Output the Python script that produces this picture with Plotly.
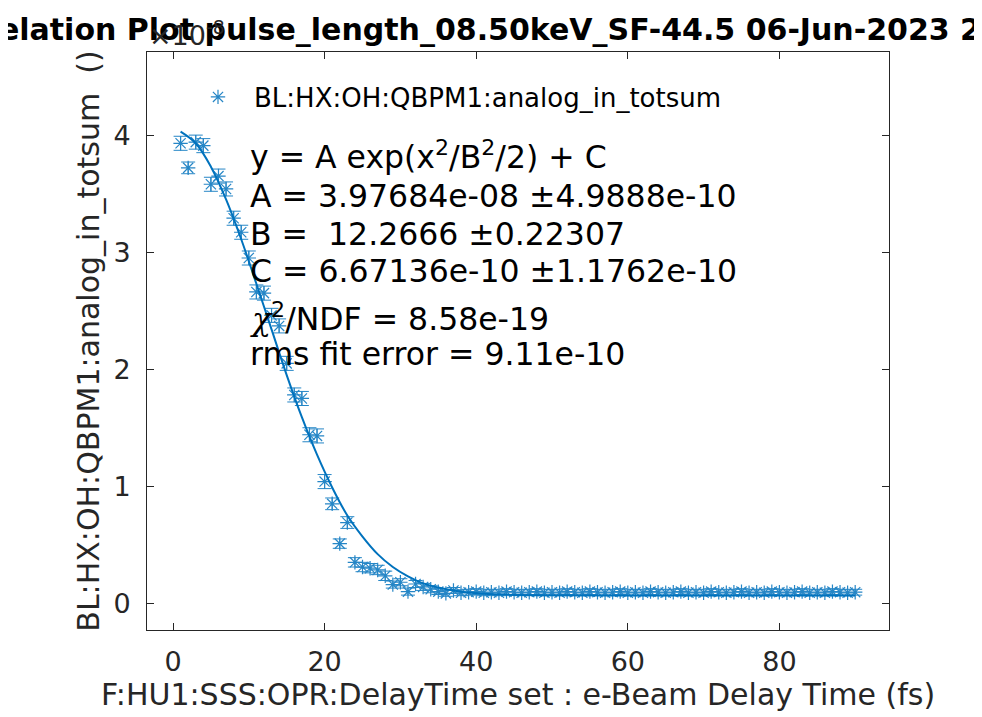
import plotly.graph_objects as go

# scan positions (fs) and measured totsum, in units of 1e-8
delay_fs = list(range(1, 91))
totsum_e8 = [
    3.93, 3.72, 3.94, 3.91, 3.58, 3.65, 3.54, 3.29, 3.17, 2.95,
    2.66, 2.65, 2.46, 2.37, 2.05, 1.78, 1.75, 1.44, 1.43, 1.04,
    0.85, 0.51, 0.69, 0.35, 0.31, 0.30, 0.285, 0.235, 0.16, 0.18,
    0.10, 0.165, 0.14, 0.12, 0.10, 0.085, 0.11, 0.09, 0.095, 0.10,
    0.09, 0.095, 0.09, 0.10, 0.095, 0.09, 0.095, 0.10, 0.09, 0.095,
    0.09, 0.10, 0.095, 0.09, 0.10, 0.095, 0.09, 0.095, 0.10, 0.09,
    0.095, 0.09, 0.10, 0.095, 0.09, 0.095, 0.10, 0.09, 0.095, 0.09,
    0.10, 0.095, 0.09, 0.095, 0.10, 0.09, 0.095, 0.09, 0.10, 0.095,
    0.09, 0.095, 0.10, 0.09, 0.095, 0.09, 0.10, 0.095, 0.09, 0.095,
]
totsum_err_e8 = [
    0.06, 0.05, 0.06, 0.06, 0.06, 0.06, 0.06, 0.06, 0.06, 0.06,
    0.06, 0.06, 0.06, 0.06, 0.06, 0.06, 0.06, 0.06, 0.06, 0.06,
    0.05, 0.04, 0.05, 0.04, 0.04, 0.04, 0.04, 0.04, 0.03, 0.03,
    0.03, 0.03, 0.03, 0.03, 0.025, 0.025, 0.025, 0.025, 0.025, 0.025,
    0.025, 0.025, 0.025, 0.025, 0.025, 0.025, 0.025, 0.025, 0.025, 0.025,
    0.025, 0.025, 0.025, 0.025, 0.025, 0.025, 0.025, 0.025, 0.025, 0.025,
    0.025, 0.025, 0.025, 0.025, 0.025, 0.025, 0.025, 0.025, 0.025, 0.025,
    0.025, 0.025, 0.025, 0.025, 0.025, 0.025, 0.025, 0.025, 0.025, 0.025,
    0.025, 0.025, 0.025, 0.025, 0.025, 0.025, 0.025, 0.025, 0.025, 0.025,
]

# gaussian fit curve
fit_x = [1, 3, 5, 7, 9, 11, 13, 15, 17, 19, 21, 23, 25, 27, 29, 31, 33, 35, 37, 39, 42, 46, 50, 60, 75, 90]
fit_y = [4.03, 3.93, 3.73, 3.45, 3.11, 2.73, 2.34, 1.95, 1.59, 1.27, 0.99, 0.75, 0.57, 0.42, 0.31,
         0.23, 0.17, 0.135, 0.11, 0.092, 0.078, 0.07, 0.068, 0.067, 0.067, 0.067]

fit_lines = [
    "y = A exp(x<sup>2</sup>/B<sup>2</sup>/2) + C",
    "A = 3.97684e-08 ±4.9888e-10",
    "B =  12.2666 ±0.22307",
    "C = 6.67136e-10 ±1.1762e-10",
    "<span style=\"font-family:'DejaVu Serif'\"><i>χ</i></span><sup>2</sup>/NDF = 8.58e-19",
    "rms fit error = 9.11e-10",
]
fit_line_y = [147, 188, 226, 263, 309, 346]  # pixel rows of the text lines (figure coords)

title = "Correlation Plot pulse_length_08.50keV_SF-44.5 06-Jun-2023 21:17:42"
blue = '#0072BD'
ink = '#262626'
font = "DejaVu Sans"

# page has an 8px body margin, so the figure is laid out in its own coords
W, H = 974, 709
L, R, T, B = 139, 881, 44, 622

fig = go.Figure()

fig.add_trace(go.Scatter(
    x=delay_fs, y=totsum_e8,
    mode='markers',
    name='BL:HX:OH:QBPM1:analog_in_totsum',
    marker=dict(symbol='asterisk-open', size=12, color=blue, line=dict(width=1.2, color=blue)),
    error_y=dict(type='data', array=totsum_err_e8, color=blue, thickness=1, width=7),
    opacity=0.85,
))

fig.add_trace(go.Scatter(
    x=fit_x, y=fit_y,
    mode='lines',
    line=dict(color=blue, width=2, shape='spline'),
    showlegend=False,
))

annotations = []
for txt, py in zip(fit_lines, fit_line_y):
    annotations.append(dict(
        text=txt, x=(240 - L) / (R - L), y=(B - py) / (B - T),
        xref='paper', yref='paper', xanchor='left', yanchor='middle',
        showarrow=False, font=dict(family=font, size=31.5, color='black'),
    ))

annotations.append(dict(
    text="×10<sup>-8</sup>", x=0, y=0.998, xref='paper', yref='paper',
    xanchor='left', yanchor='bottom', showarrow=False,
    font=dict(family=font, size=27, color=ink),
))

fig.update_layout(
    width=W, height=H,
    margin=dict(l=L, r=W - R, t=T, b=H - B),
    paper_bgcolor='white', plot_bgcolor='white',
    title=dict(text=title, x=(L + R) / 2 / W, xanchor='center', xref='container',
               y=1 - 21 / H, yanchor='middle',
               font=dict(family="DejaVu Sans", size=30, color='black', weight='bold')),
    showlegend=True,
    legend=dict(x=(174 - L) / (R - L), y=(B - 89) / (B - T), xanchor='left', yanchor='middle',
                bgcolor='rgba(0,0,0,0)', borderwidth=0, itemwidth=62,
                font=dict(family=font, size=26, color='black')),
    annotations=annotations,
)

axis_common = dict(
    showgrid=False, zeroline=False, showline=True, linecolor=ink, linewidth=1,
    mirror='ticks', ticks='inside', ticklen=7, tickcolor=ink, tickwidth=1,
    tickfont=dict(family=font, size=27, color=ink),
)

fig.update_xaxes(
    range=[-3.43, 94.46], tickvals=[0, 20, 40, 60, 80],
    title=dict(text='F:HU1:SSS:OPR:DelayTime set : e-Beam Delay Time (fs)',
               font=dict(family=font, size=30, color=ink), standoff=4),
    ticklabelstandoff=8,
    **axis_common,
)
fig.update_yaxes(
    range=[-0.228, 4.71], tickvals=[0, 1, 2, 3, 4],
    title=dict(text='BL:HX:OH:QBPM1:analog_in_totsum  ()',
               font=dict(family=font, size=30, color=ink), standoff=4),
    ticklabelstandoff=10,
    **axis_common,
)

fig.write_html("out.html")
